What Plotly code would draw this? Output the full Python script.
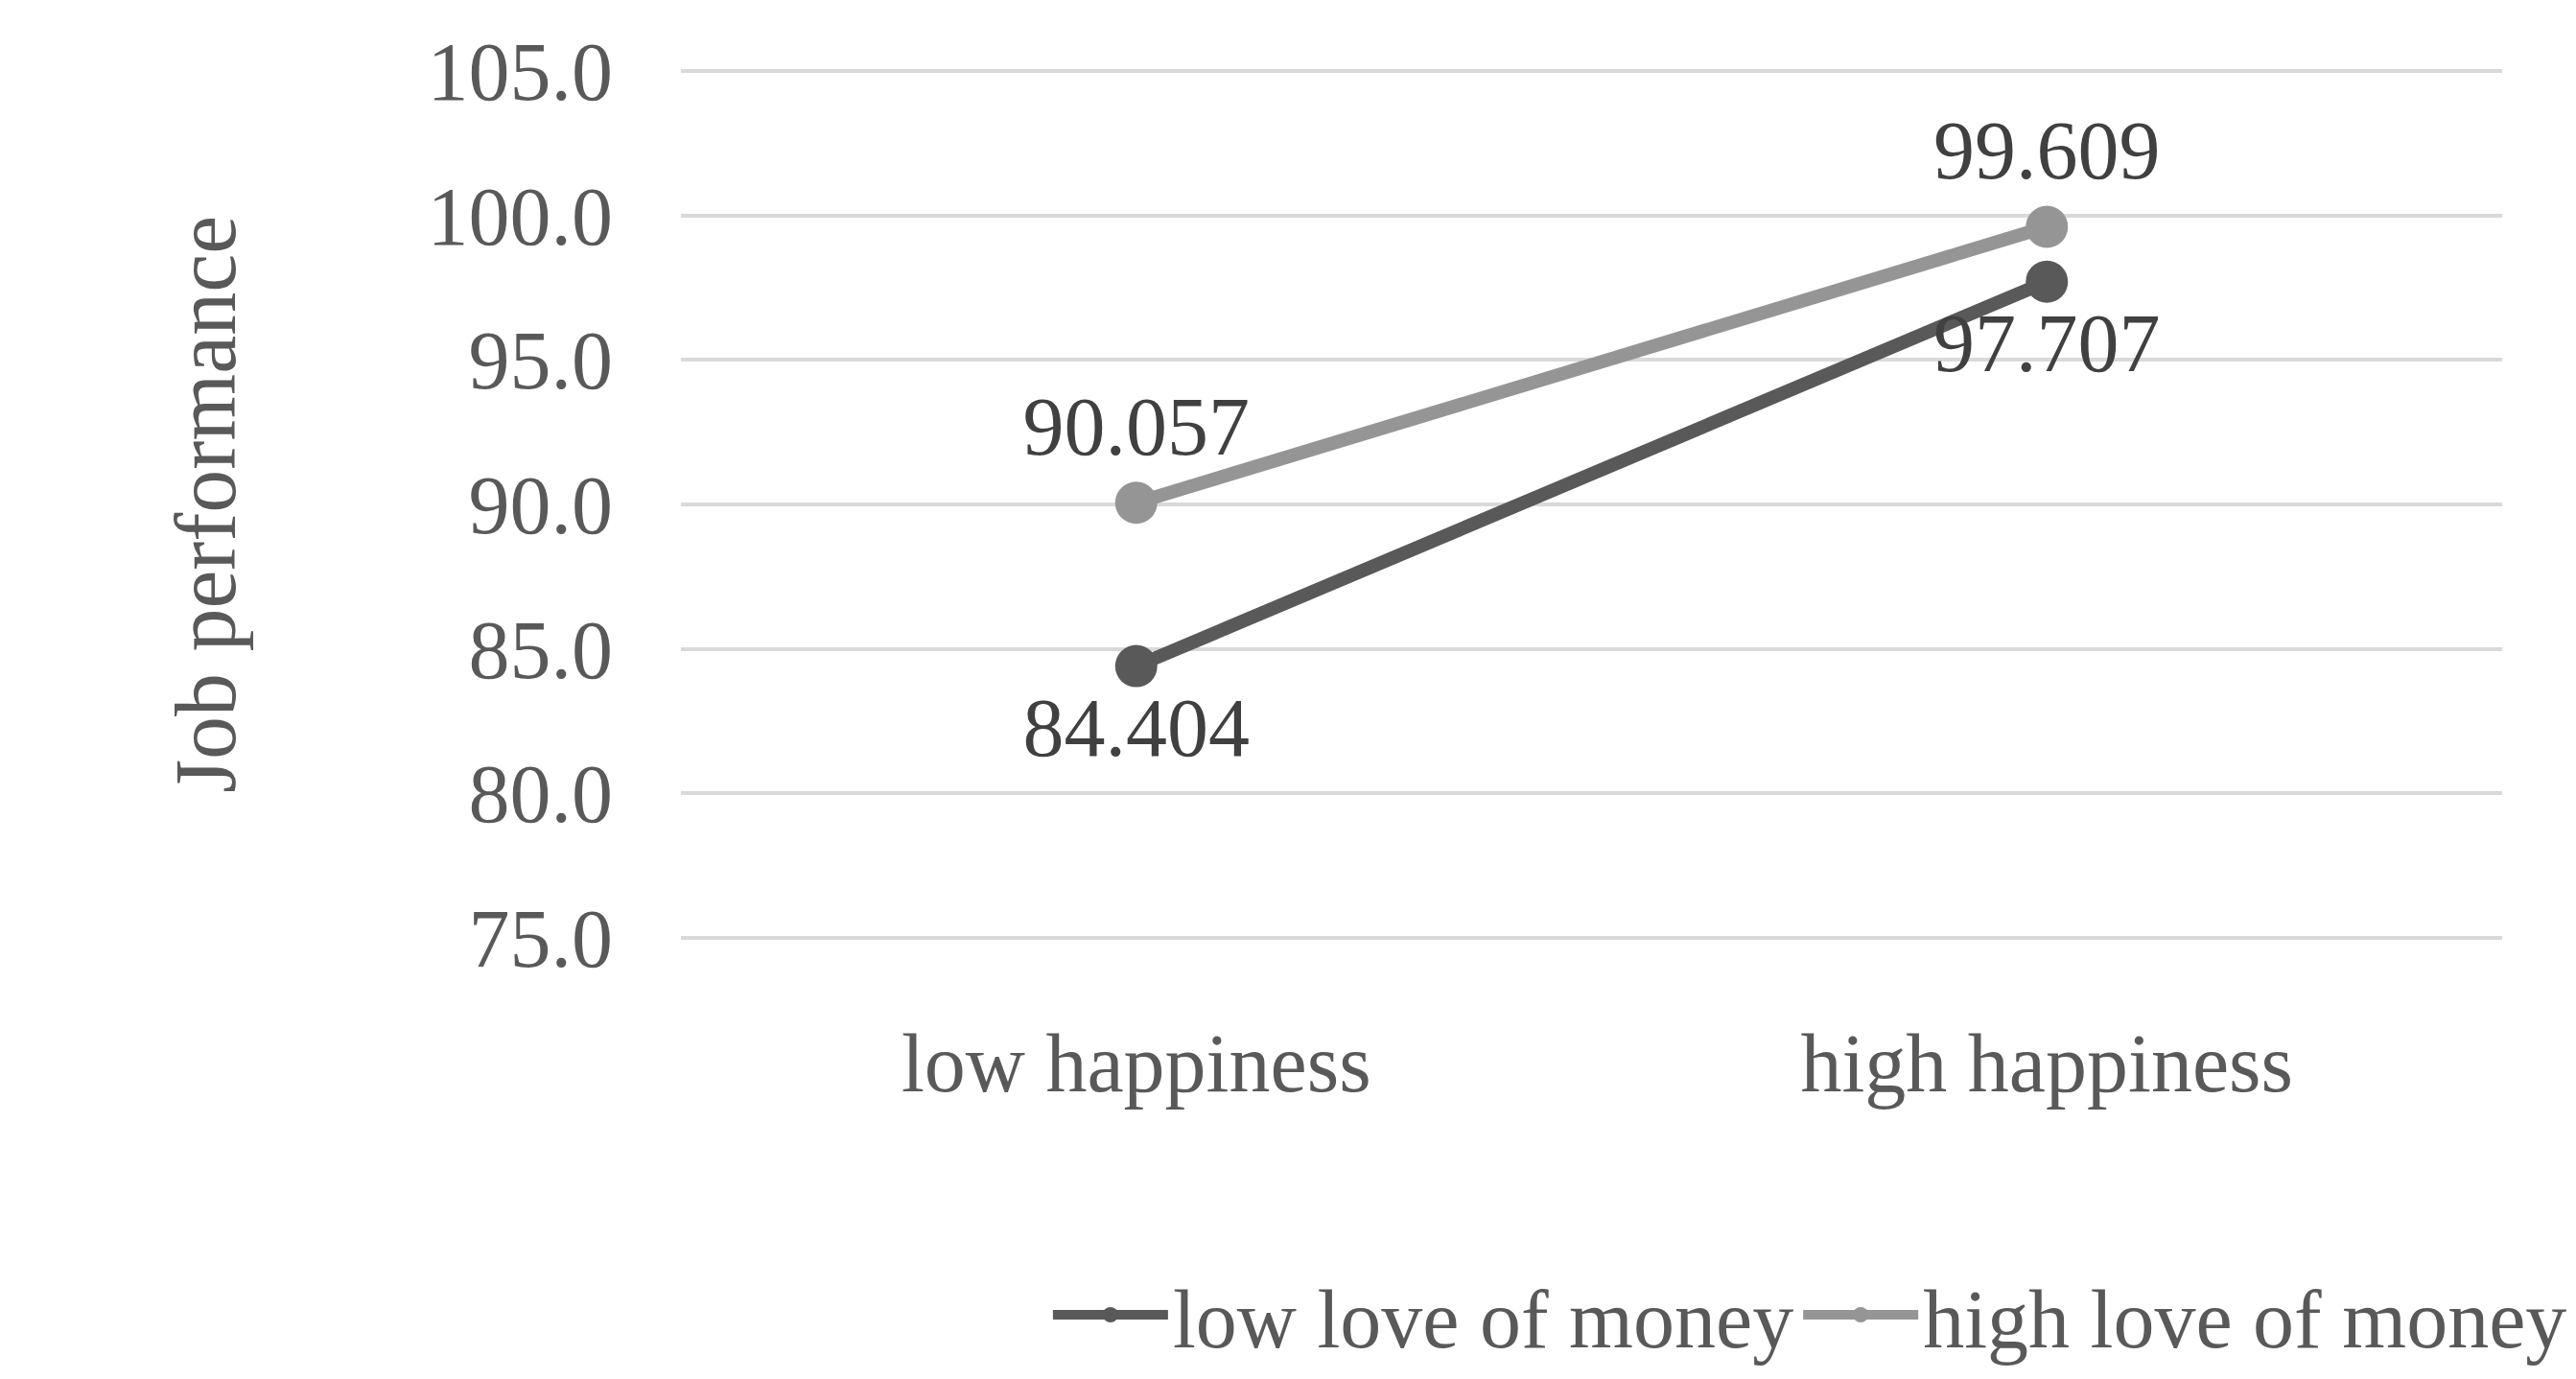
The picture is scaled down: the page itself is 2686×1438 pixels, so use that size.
import plotly.graph_objects as go

categories = ["low happiness", "high happiness"]
low_love = [84.404, 97.707]
high_love = [90.057, 99.609]
series_names = ["low love of money", "high love of money"]

font = "Liberation Serif"
fig = go.Figure()
fig.add_trace(go.Scatter(x=categories, y=low_love, name=series_names[0], mode="lines+markers+text",
    line=dict(color="#595959", width=14), marker=dict(size=44, color="#595959"),
    text=[f"{v:.3f}" for v in low_love], textposition="bottom center",
    textfont=dict(size=86, color="#404040", family=font)))
fig.add_trace(go.Scatter(x=categories, y=high_love, name=series_names[1], mode="lines+markers+text",
    line=dict(color="#959595", width=14), marker=dict(size=44, color="#959595"),
    text=[f"{v:.3f}" for v in high_love], textposition="top center",
    textfont=dict(size=86, color="#404040", family=font)))

fig.update_layout(
    width=2686, height=1438, plot_bgcolor="white", paper_bgcolor="white",
    margin=dict(l=702, r=31, t=63, b=376),
    font=dict(family=font, size=86, color="#595959"),
    xaxis=dict(range=[-0.5, 1.5], showline=False, showgrid=False, ticks="", tickfont=dict(size=86),
               ticklabelstandoff=70),
    yaxis=dict(range=[74.9, 105.1], tickvals=[75, 80, 85, 90, 95, 100, 105], tickformat=".1f",
               gridcolor="#d9d9d9", gridwidth=4,
               zeroline=False, ticks="", tickfont=dict(size=86), ticklabelstandoff=70,
               title=dict(text="Job performance", font=dict(size=90), standoff=170)),
    legend=dict(orientation="h", x=0.62, xanchor="center", y=-0.36, yanchor="top",
                font=dict(size=86), itemwidth=120),
)
fig.write_html("out.html")
